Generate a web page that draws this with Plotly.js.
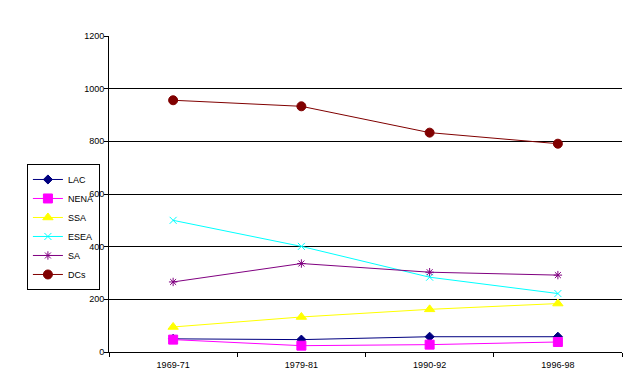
<!DOCTYPE html>
<html><head><meta charset="utf-8">
<script src="https://cdn.plot.ly/plotly-3.0.1.min.js"></script>
<style>body{margin:0;background:#fff}#c{width:636px;height:381px}</style>
</head><body><div id="c"></div>
<script>
var categories = ["1969-71", "1979-81", "1990-92", "1996-98"];
var LAC  = [50, 47, 58, 58];
var NENA = [47, 24, 28, 38];
var SSA  = [95, 133, 162, 184];
var ESEA = [500, 401, 284, 222];
var SA   = [266, 336, 303, 292];
var DCs  = [956, 933, 833, 791];
var yTicks = [0, 200, 400, 600, 800, 1000, 1200];

function tr(name, y, color, symbol, size) {
  return {x: categories, y: y, name: name, type: "scatter", mode: "lines+markers",
    line: {color: color, width: 1},
    marker: {color: color, symbol: symbol, size: size, line: {color: color, width: 1}}};
}
var data = [
  tr("LAC", LAC, "#000080", "diamond", 7),
  tr("NENA", NENA, "#FF00FF", "square", 9),
  tr("SSA", SSA, "#FFFF00", "triangle-up", 9),
  tr("ESEA", ESEA, "#00FFFF", "x-thin-open", 7),
  tr("SA", SA, "#800080", "asterisk-open", 7),
  tr("DCs", DCs, "#800000", "circle", 9)
];
var layout = {
  width: 636, height: 381,
  margin: {l: 109, r: 14, t: 36, b: 29},
  paper_bgcolor: "#fff", plot_bgcolor: "#fff",
  font: {family: "Liberation Sans, Arial, sans-serif", size: 9, color: "#000"},
  showlegend: true,
  legend: {x: -0.16, y: 0.595, xanchor: "left", yanchor: "top",
    bgcolor: "rgba(255,255,255,0)", bordercolor: "#000", borderwidth: 1,
    font: {size: 9}, tracegroupgap: 0},
  xaxis: {type: "category", range: [-0.5, 3.5], showline: true, linecolor: "#000", linewidth: 1,
    ticks: "outside", tickson: "boundaries", ticklen: 4, tickcolor: "#000",
    ticklabelstandoff: 4,
    showgrid: false, zeroline: false, fixedrange: true},
  yaxis: {range: [0, 1200], tickvals: yTicks, showline: true, linecolor: "#000", linewidth: 1,
    ticks: "outside", ticklen: 4, tickcolor: "#000", ticklabelstandoff: -2,
    showgrid: true, gridcolor: "#000", gridwidth: 1, zeroline: false, fixedrange: true}
};
Plotly.newPlot("c", data, layout, {displayModeBar: false, staticPlot: true});
</script></body></html>
